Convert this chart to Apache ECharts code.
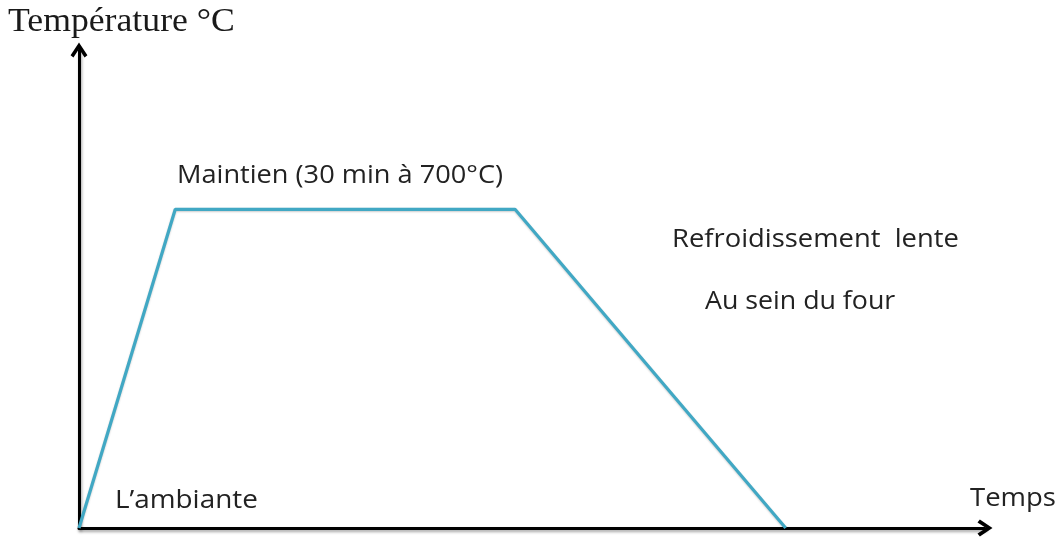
<!DOCTYPE html>
<html>
<head>
<meta charset="utf-8">
<script src="https://cdn.jsdelivr.net/npm/echarts@6/dist/echarts.min.js"></script>
<style>html,body{margin:0;padding:0;background:#fff}#c{width:1061px;height:539px}</style>
</head>
<body>
<div id="c"></div>
<script>
// Data (time in minutes, temperature in °C)
const times = [0, 8.5, 38.5, 62.4];
const temps = [0, 700, 700, 0];
const yAxisTitle = 'Température °C';
const xAxisTitle = 'Temps';
const labelPlateau = 'Maintien (30 min à 700°C)';
const labelCooling1 = 'Refroidissement  lente';
const labelCooling2 = 'Au sein du four';
const labelStart = 'L\u2019ambiante';

const chevron = 'path://M5,0 L10,7.5 L8.3,8.9 L5,3.8 L1.7,8.9 L0,7.5 Z';
const axisLineCommon = {
  show: true,
  symbol: ['none', chevron],
  symbolSize: [18, 15],
  lineStyle: { color: '#000', width: 3, shadowColor: 'rgba(0,0,0,0.35)', shadowBlur: 3, shadowOffsetX: 1, shadowOffsetY: 2 }
};

const chart = echarts.init(document.getElementById('c'), null, { renderer: 'canvas' });
const sans = '25px "Open Sans", sans-serif';
const txtColor = '#222';
function label(text, left, top, sx) {
  return { type: 'text', x: left, y: top, scaleX: sx, style: { text: text, font: sans, fill: txtColor, verticalAlign: 'top' } };
}
chart.setOption({
  animation: false,
  backgroundColor: '#fff',
  grid: { left: 79, right: 76, top: 50, bottom: 11 },
  xAxis: {
    type: 'value', min: 0, max: 80,
    axisLine: axisLineCommon,
    axisTick: { show: false }, axisLabel: { show: false }, splitLine: { show: false }
  },
  yAxis: {
    type: 'value', min: 0, max: 1050,
    axisLine: axisLineCommon,
    axisTick: { show: false }, axisLabel: { show: false }, splitLine: { show: false }
  },
  series: [{
    type: 'line',
    data: times.map((t, i) => [t, temps[i]]),
    symbol: 'none',
    lineStyle: { color: '#41a8c4', width: 3.2, shadowColor: 'rgba(0,0,0,0.2)', shadowBlur: 2, shadowOffsetY: 1 },
    z: 1
  }],
  graphic: [
    { type: 'text', x: 8, y: 5, scaleX: 1.05, style: { text: yAxisTitle, font: '34px "Liberation Serif", serif', fill: '#1a1a1a', verticalAlign: 'top' } },
    label(xAxisTitle, 970, 486, 1.1),
    label(labelPlateau, 177, 163, 1.087),
    label(labelCooling1, 672, 227, 1.095),
    label(labelCooling2, 705, 289, 1.07),
    label(labelStart, 115, 488, 1.115)
  ]
});
</script>
</body>
</html>
